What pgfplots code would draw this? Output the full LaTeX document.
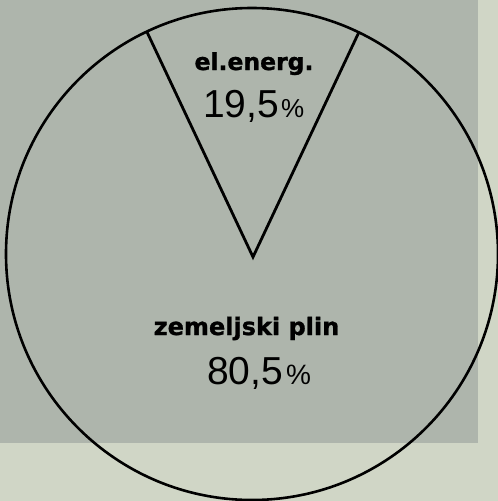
\documentclass[border=0pt]{standalone}
\usepackage{pgfplots}
\pgfplotsset{compat=1.18}
\usepackage{fontspec}
\setmainfont{Liberation Sans}
\newfontfamily\boldlab[BoldFeatures={FakeBold=1.2}]{DejaVu Sans}
\definecolor{paper}{RGB}{208,214,198}
\definecolor{grayfield}{RGB}{174,181,172}
\begin{document}
\begin{tikzpicture}
\begin{axis}[
  width=498pt, height=501pt, scale only axis,
  xmin=0, xmax=498, ymin=0, ymax=501, y dir=reverse,
  hide axis, clip=true,
]
% page background
\fill[paper] (axis cs:0,0) rectangle (axis cs:498,501);
\fill[grayfield] (axis cs:0,0) rectangle (axis cs:478,443);
% pie outline
\draw[line width=2.6pt, black] (axis cs:252,254) circle [radius=246];
% wedge boundaries (el.energ. 19,5 % / zemeljski plin 80,5 %)
\addplot[line width=2.8pt, black, line join=miter] coordinates {(147,32) (253,257) (359,32)};
% labels
\node[font=\boldlab\fontsize{23.5}{26}\selectfont\bfseries, anchor=base, inner sep=0pt] at (axis cs:254,70) {el.energ.};
\node[font=\fontsize{39}{40}\selectfont, anchor=base west, inner sep=0pt] at (axis cs:203,117) {19,5\hspace{2pt}{\fontsize{26}{26}\selectfont\%}};
\node[font=\boldlab\fontsize{24}{26}\selectfont\bfseries, anchor=base, inner sep=0pt] at (axis cs:246.5,335) {zemeljski plin};
\node[font=\fontsize{39}{40}\selectfont, anchor=base west, inner sep=0pt] at (axis cs:207,384) {80,5\hspace{3pt}{\fontsize{28}{28}\selectfont\%}};
\end{axis}
\end{tikzpicture}
\end{document}
